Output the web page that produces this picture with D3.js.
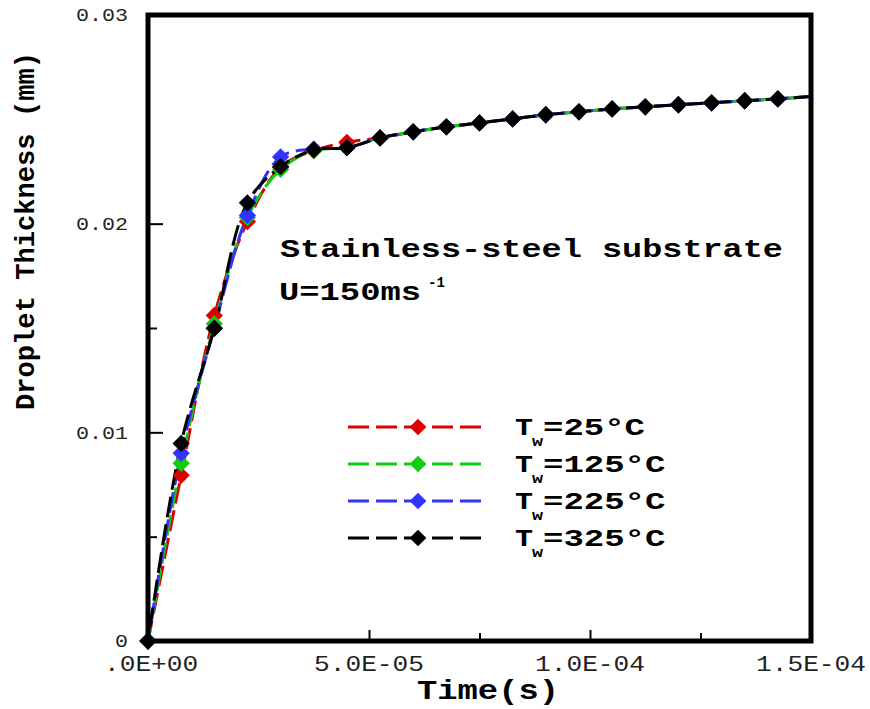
<!DOCTYPE html>
<html>
<head>
<meta charset="utf-8">
<script src="https://cdn.jsdelivr.net/npm/d3@7"></script>
<style>
  body { margin: 0; background: #fff; }
  text { font-family: "Courier New", "Liberation Mono", monospace; }
</style>
</head>
<body>
<div id="chart"></div>
<script>
// Chart size and plot frame
const width = 870;
const height = 709;
const margin = {top: 15, right: 59, bottom: 68, left: 148};

// Data (time in s, thickness in mm)
const times = [0, 7.5e-6, 1.5e-5, 2.25e-5, 3.0e-5, 3.75e-5, 4.5e-5, 5.25e-5, 6.0e-5, 6.75e-5,
               7.5e-5, 8.25e-5, 9.0e-5, 9.75e-5, 1.05e-4, 1.125e-4, 1.2e-4, 1.275e-4, 1.35e-4, 1.425e-4, 1.5e-4];
const tw25  = [0, 0.00794, 0.0156, 0.0201, 0.0227, 0.0235, 0.0239, 0.02411, 0.0244, 0.02464,
               0.02483, 0.02502, 0.02522, 0.02536, 0.0255, 0.0256, 0.0257, 0.02579, 0.02589, 0.02598, 0.0261];
const tw125 = [0, 0.00852, 0.0152, 0.0203, 0.0226, 0.0235, 0.02364, 0.02411, 0.0244, 0.02464,
               0.02483, 0.02502, 0.02522, 0.02536, 0.0255, 0.0256, 0.0257, 0.02579, 0.02589, 0.02598, 0.0261];
const tw225 = [0, 0.0090, 0.0150, 0.0204, 0.0232, 0.02358, 0.02364, 0.02411, 0.0244, 0.02464,
               0.02483, 0.02502, 0.02522, 0.02536, 0.0255, 0.0256, 0.0257, 0.02579, 0.02589, 0.02598, 0.0261];
const tw325 = [0, 0.00947, 0.01498, 0.0210, 0.02273, 0.02354, 0.02364, 0.02411, 0.0244, 0.02464,
               0.02483, 0.02502, 0.02522, 0.02536, 0.0255, 0.0256, 0.0257, 0.02579, 0.02589, 0.02598, 0.0261];

const seriesNames = ["25", "125", "225", "325"];
const seriesColors = ["#dd0000", "#11cc11", "#3333ff", "#000000"];

const xTickValues = [0, 5e-5, 1e-4, 1.5e-4];
const xTickLabels = [".0E+00", "5.0E-05", "1.0E-04", "1.5E-04"];
const xMinorTicks = [7.5e-5, 1.25e-4];
const yTickValues = [0, 0.01, 0.02, 0.03];
const yTickLabels = ["0", "0.01", "0.02", "0.03"];
const yMinorTicks = [0.005, 0.015];

const series = [tw25, tw125, tw225, tw325].map((vals, i) => ({
  name: seriesNames[i],
  color: seriesColors[i],
  values: vals.map((v, j) => ({t: times[j], h: v}))
}));

const svg = d3.select("#chart")
  .append("svg")
  .attr("width", width)
  .attr("height", height);

const x = d3.scaleLinear().domain([0, 1.5e-4]).range([margin.left, width - margin.right]);
const y = d3.scaleLinear().domain([0, 0.03]).range([height - margin.bottom, margin.top]);

// Curves
const line = d3.line()
  .x(d => x(d.t))
  .y(d => y(d.h))
  .curve(d3.curveCatmullRom.alpha(0.5));

const diamond = d3.symbol().type(d3.symbolSquare).size(150);

series.forEach((s, i) => {
  svg.append("path")
    .datum(s.values)
    .attr("d", line)
    .attr("fill", "none")
    .attr("stroke", s.color)
    .attr("stroke-width", 3)
    .attr("stroke-dasharray", "21 7")
    .attr("stroke-dashoffset", i * 5);
});

// markers drawn after all lines, black on top
series.forEach(s => {
  svg.selectAll(null)
    .data(s.values.filter(d => d.t < 1.5e-4))
    .enter()
    .append("path")
    .attr("d", diamond)
    .attr("transform", d => `translate(${x(d.t)},${y(d.h)}) rotate(45)`)
    .attr("fill", s.color);
});

// Frame and ticks
svg.append("rect")
  .attr("x", x(0))
  .attr("y", y(0.03))
  .attr("width", x(1.5e-4) - x(0))
  .attr("height", y(0) - y(0.03))
  .attr("fill", "none")
  .attr("stroke", "#000")
  .attr("stroke-width", 5);

const yAxis = d3.axisRight(y).tickValues(yTickValues.slice(1, 3)).tickSize(15).tickFormat("");
svg.append("g").attr("transform", `translate(${x(0)},0)`).call(yAxis)
  .call(g => g.select(".domain").remove())
  .selectAll("line").attr("stroke-width", 2);
svg.append("g").attr("transform", `translate(${x(0)},0)`)
  .call(d3.axisRight(y).tickValues(yMinorTicks).tickSize(9).tickFormat(""))
  .call(g => g.select(".domain").remove())
  .selectAll("line").attr("stroke-width", 2);

svg.append("g").attr("transform", `translate(0,${y(0)})`)
  .call(d3.axisTop(x).tickValues(xTickValues.slice(1, 3)).tickSize(11).tickFormat(""))
  .call(g => g.select(".domain").remove())
  .selectAll("line").attr("stroke-width", 2);
svg.append("g").attr("transform", `translate(0,${y(0)})`)
  .call(d3.axisTop(x).tickValues(xMinorTicks).tickSize(8).tickFormat(""))
  .call(g => g.select(".domain").remove())
  .selectAll("line").attr("stroke-width", 2);

// Tick labels
svg.selectAll(".ylab")
  .data(yTickValues)
  .enter()
  .append("text")
  .attr("x", 128)
  .attr("y", d => y(d))
  .attr("dy", "0.35em")
  .attr("text-anchor", "end")
  .attr("font-size", 18)
  .attr("fill", "#222")
  .attr("textLength", (d, i) => yTickLabels[i].length * 13)
  .attr("lengthAdjust", "spacingAndGlyphs")
  .text((d, i) => yTickLabels[i]);

svg.selectAll(".xlab")
  .data(xTickValues)
  .enter()
  .append("text")
  .attr("x", d => x(d))
  .attr("y", 671)
  .attr("text-anchor", (d, i) => i === 0 ? "start" : "middle")
  .attr("dx", (d, i) => i === 0 ? -44 : 0)
  .attr("font-size", 22)
  .attr("fill", "#222")
  .attr("textLength", (d, i) => xTickLabels[i].length * 15.7)
  .attr("lengthAdjust", "spacingAndGlyphs")
  .text((d, i) => xTickLabels[i]);

// Axis titles
svg.append("text")
  .attr("transform", `translate(34,231) rotate(-90)`)
  .attr("text-anchor", "middle")
  .attr("font-size", 27)
  .attr("font-weight", "bold")
  .attr("textLength", 358)
  .attr("lengthAdjust", "spacingAndGlyphs")
  .text("Droplet Thickness (mm)");

svg.append("text")
  .attr("x", 488)
  .attr("y", 699)
  .attr("text-anchor", "middle")
  .attr("font-size", 28)
  .attr("font-weight", "bold")
  .attr("textLength", 142)
  .attr("lengthAdjust", "spacingAndGlyphs")
  .text("Time(s)");

// Annotation
svg.append("text")
  .attr("x", 280)
  .attr("y", 257)
  .attr("font-size", 26)
  .attr("font-weight", "bold")
  .attr("textLength", 503)
  .attr("lengthAdjust", "spacingAndGlyphs")
  .text("Stainless-steel substrate");
svg.append("text")
  .attr("x", 279)
  .attr("y", 300)
  .attr("font-size", 26)
  .attr("font-weight", "bold")
  .attr("textLength", 142)
  .attr("lengthAdjust", "spacingAndGlyphs")
  .text("U=150ms");
svg.append("text")
  .attr("x", 428)
  .attr("y", 287)
  .attr("font-size", 15)
  .attr("font-weight", "bold")
  .attr("textLength", 17)
  .attr("lengthAdjust", "spacingAndGlyphs")
  .text("-1");

// Legend
const legend = svg.selectAll(".legend")
  .data(series)
  .enter()
  .append("g")
  .attr("transform", (d, i) => `translate(0,${427 + i * 37})`);

legend.append("line")
  .attr("x1", 348).attr("x2", 483)
  .attr("stroke", d => d.color)
  .attr("stroke-width", 3)
  .attr("stroke-dasharray", "21 7");
legend.append("path")
  .attr("d", d3.symbol().type(d3.symbolSquare).size(140))
  .attr("transform", "translate(418,0) rotate(45)")
  .attr("fill", d => d.color);
legend.append("text")
  .attr("x", 515).attr("y", 8)
  .attr("font-size", 23).attr("font-weight", "bold")
  .attr("textLength", 18).attr("lengthAdjust", "spacingAndGlyphs")
  .text("T");
legend.append("text")
  .attr("x", 532).attr("y", 19)
  .attr("font-size", 15).attr("font-weight", "bold")
  .attr("textLength", 11).attr("lengthAdjust", "spacingAndGlyphs")
  .text("w");
legend.append("text")
  .attr("x", 543).attr("y", 8)
  .attr("font-size", 23).attr("font-weight", "bold")
  .attr("textLength", d => (d.name.length + 3) * 20.4)
  .attr("lengthAdjust", "spacingAndGlyphs")
  .text(d => `=${d.name}°C`);
</script>
</body>
</html>
